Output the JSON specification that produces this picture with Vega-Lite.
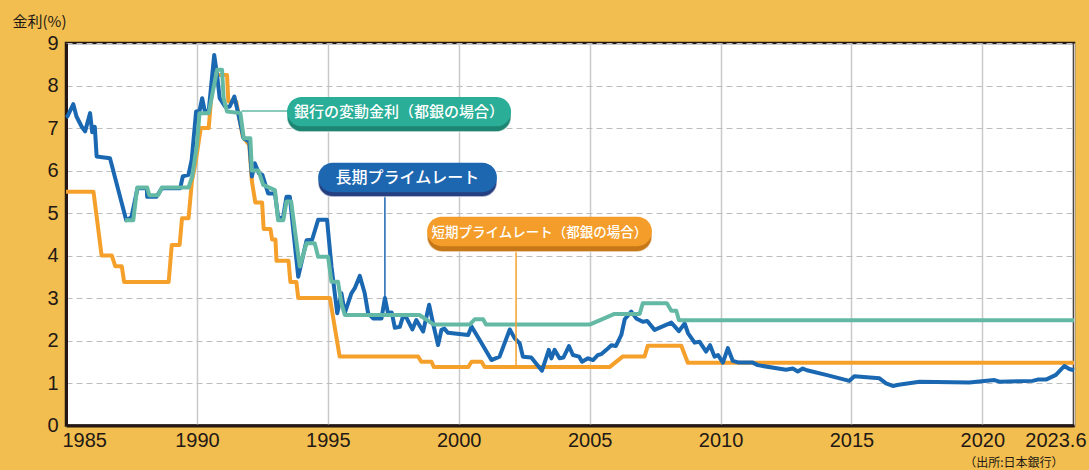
{
  "$schema": "https://vega.github.io/schema/vega-lite/v6.json",
  "width": 1008,
  "height": 382.5,
  "autosize": {"type": "none"},
  "padding": {"left": 66, "top": 43, "right": 15, "bottom": 44.5},
  "background": "#F1BE4F",
  "config": {
    "view": {"stroke": "#231815", "strokeWidth": 2.5, "fill": "white"},
    "axis": {"labelFont": "Liberation Sans", "labelFontSize": 20, "labelColor": "#231815", "ticks": false, "domainColor": "#231815", "domainWidth": 3}
  },
  "datasets": {
    "short": [
      {"year": 1985.0, "rate": 5.5}, {"year": 1986.05, "rate": 5.5}, {"year": 1986.36, "rate": 4.0}, {"year": 1986.75, "rate": 4.0},
      {"year": 1986.88, "rate": 3.75}, {"year": 1987.13, "rate": 3.75}, {"year": 1987.22, "rate": 3.375}, {"year": 1988.92, "rate": 3.375},
      {"year": 1989.04, "rate": 4.25}, {"year": 1989.34, "rate": 4.25}, {"year": 1989.43, "rate": 4.875}, {"year": 1989.68, "rate": 4.875},
      {"year": 1989.81, "rate": 5.75}, {"year": 1989.95, "rate": 6.2}, {"year": 1990.15, "rate": 7.0}, {"year": 1990.45, "rate": 7.0},
      {"year": 1990.62, "rate": 8.25}, {"year": 1991.15, "rate": 8.25}, {"year": 1991.2, "rate": 7.625}, {"year": 1991.5, "rate": 7.625},
      {"year": 1991.75, "rate": 6.8}, {"year": 1992.0, "rate": 6.6}, {"year": 1992.1, "rate": 5.75}, {"year": 1992.23, "rate": 5.25},
      {"year": 1992.49, "rate": 5.25}, {"year": 1992.55, "rate": 4.625}, {"year": 1992.81, "rate": 4.625}, {"year": 1992.87, "rate": 4.375},
      {"year": 1993.0, "rate": 4.375}, {"year": 1993.04, "rate": 3.875}, {"year": 1993.5, "rate": 3.875}, {"year": 1993.57, "rate": 3.375},
      {"year": 1993.8, "rate": 3.375}, {"year": 1993.87, "rate": 3.0}, {"year": 1995.08, "rate": 3.0}, {"year": 1995.45, "rate": 1.625},
      {"year": 1998.45, "rate": 1.625}, {"year": 1998.57, "rate": 1.5}, {"year": 1998.96, "rate": 1.5}, {"year": 1999.05, "rate": 1.375},
      {"year": 2000.36, "rate": 1.375}, {"year": 2000.49, "rate": 1.5}, {"year": 2000.87, "rate": 1.5}, {"year": 2000.99, "rate": 1.375},
      {"year": 2005.76, "rate": 1.375}, {"year": 2006.27, "rate": 1.625}, {"year": 2007.1, "rate": 1.625}, {"year": 2007.22, "rate": 1.875},
      {"year": 2008.5, "rate": 1.875}, {"year": 2008.75, "rate": 1.475}, {"year": 2023.5, "rate": 1.475}
    ],
    "long": [
      {"year": 1985.0, "rate": 7.25}, {"year": 1985.05, "rate": 7.27}, {"year": 1985.28, "rate": 7.56}, {"year": 1985.4, "rate": 7.27},
      {"year": 1985.6, "rate": 7.03}, {"year": 1985.73, "rate": 6.92}, {"year": 1985.92, "rate": 7.35}, {"year": 1986.0, "rate": 6.9},
      {"year": 1986.1, "rate": 7.03}, {"year": 1986.17, "rate": 6.33}, {"year": 1986.68, "rate": 6.29}, {"year": 1987.3, "rate": 4.83},
      {"year": 1987.5, "rate": 4.9}, {"year": 1987.73, "rate": 5.58}, {"year": 1988.09, "rate": 5.58}, {"year": 1988.1, "rate": 5.38},
      {"year": 1988.45, "rate": 5.38}, {"year": 1988.66, "rate": 5.58}, {"year": 1989.36, "rate": 5.58}, {"year": 1989.46, "rate": 5.86},
      {"year": 1989.68, "rate": 5.9}, {"year": 1989.8, "rate": 6.25}, {"year": 1989.97, "rate": 7.39}, {"year": 1990.1, "rate": 7.4},
      {"year": 1990.2, "rate": 7.7}, {"year": 1990.3, "rate": 7.4}, {"year": 1990.45, "rate": 7.4}, {"year": 1990.66, "rate": 8.72},
      {"year": 1990.77, "rate": 8.25}, {"year": 1990.87, "rate": 7.7}, {"year": 1991.08, "rate": 7.5}, {"year": 1991.25, "rate": 7.5},
      {"year": 1991.43, "rate": 7.74}, {"year": 1991.56, "rate": 7.39}, {"year": 1991.78, "rate": 6.76}, {"year": 1992.0, "rate": 6.68},
      {"year": 1992.1, "rate": 5.86}, {"year": 1992.21, "rate": 6.17}, {"year": 1992.37, "rate": 5.93}, {"year": 1992.5, "rate": 5.9},
      {"year": 1992.72, "rate": 5.46}, {"year": 1992.98, "rate": 5.46}, {"year": 1993.1, "rate": 4.91}, {"year": 1993.28, "rate": 4.85},
      {"year": 1993.42, "rate": 5.38}, {"year": 1993.55, "rate": 5.38}, {"year": 1993.68, "rate": 4.6}, {"year": 1993.87, "rate": 3.5},
      {"year": 1994.19, "rate": 4.36}, {"year": 1994.4, "rate": 4.37}, {"year": 1994.63, "rate": 4.84}, {"year": 1994.97, "rate": 4.84},
      {"year": 1995.14, "rate": 3.74}, {"year": 1995.36, "rate": 2.64}, {"year": 1995.52, "rate": 3.11}, {"year": 1995.65, "rate": 2.65},
      {"year": 1995.9, "rate": 3.11}, {"year": 1996.03, "rate": 3.23}, {"year": 1996.22, "rate": 3.52}, {"year": 1996.41, "rate": 3.11},
      {"year": 1996.54, "rate": 2.64}, {"year": 1996.73, "rate": 2.52}, {"year": 1997.05, "rate": 2.52}, {"year": 1997.18, "rate": 3.0},
      {"year": 1997.3, "rate": 2.64}, {"year": 1997.44, "rate": 2.66}, {"year": 1997.56, "rate": 2.3}, {"year": 1997.75, "rate": 2.32},
      {"year": 1997.87, "rate": 2.56}, {"year": 1998.0, "rate": 2.54}, {"year": 1998.23, "rate": 2.26}, {"year": 1998.38, "rate": 2.48},
      {"year": 1998.64, "rate": 2.21}, {"year": 1998.87, "rate": 2.84}, {"year": 1999.02, "rate": 2.4}, {"year": 1999.21, "rate": 1.89},
      {"year": 1999.34, "rate": 2.25}, {"year": 1999.45, "rate": 2.28}, {"year": 1999.59, "rate": 2.18}, {"year": 2000.36, "rate": 2.13},
      {"year": 2000.49, "rate": 2.33}, {"year": 2000.8, "rate": 2.01}, {"year": 2001.25, "rate": 1.54}, {"year": 2001.56, "rate": 1.62},
      {"year": 2001.95, "rate": 2.26}, {"year": 2002.14, "rate": 2.05}, {"year": 2002.33, "rate": 1.93}, {"year": 2002.45, "rate": 1.62},
      {"year": 2002.77, "rate": 1.6}, {"year": 2003.18, "rate": 1.29}, {"year": 2003.44, "rate": 1.78}, {"year": 2003.54, "rate": 1.58},
      {"year": 2003.66, "rate": 1.78}, {"year": 2003.85, "rate": 1.58}, {"year": 2004.0, "rate": 1.6}, {"year": 2004.21, "rate": 1.87},
      {"year": 2004.36, "rate": 1.66}, {"year": 2004.6, "rate": 1.62}, {"year": 2004.71, "rate": 1.5}, {"year": 2004.94, "rate": 1.58},
      {"year": 2005.13, "rate": 1.54}, {"year": 2005.32, "rate": 1.66}, {"year": 2005.45, "rate": 1.68}, {"year": 2005.64, "rate": 1.78},
      {"year": 2005.83, "rate": 1.89}, {"year": 2006.0, "rate": 1.87}, {"year": 2006.21, "rate": 2.13}, {"year": 2006.34, "rate": 2.5},
      {"year": 2006.59, "rate": 2.68}, {"year": 2006.78, "rate": 2.52}, {"year": 2007.03, "rate": 2.44}, {"year": 2007.2, "rate": 2.46},
      {"year": 2007.48, "rate": 2.25}, {"year": 2008.12, "rate": 2.42}, {"year": 2008.41, "rate": 2.22}, {"year": 2008.63, "rate": 2.4},
      {"year": 2008.76, "rate": 2.17}, {"year": 2009.01, "rate": 1.95}, {"year": 2009.2, "rate": 1.97}, {"year": 2009.45, "rate": 1.74},
      {"year": 2009.6, "rate": 1.89}, {"year": 2009.77, "rate": 1.62}, {"year": 2009.9, "rate": 1.66}, {"year": 2010.09, "rate": 1.48},
      {"year": 2010.28, "rate": 1.82}, {"year": 2010.47, "rate": 1.52}, {"year": 2010.7, "rate": 1.48}, {"year": 2011.23, "rate": 1.48},
      {"year": 2011.42, "rate": 1.42}, {"year": 2012.5, "rate": 1.31}, {"year": 2012.76, "rate": 1.34}, {"year": 2012.95, "rate": 1.27},
      {"year": 2013.14, "rate": 1.34}, {"year": 2013.3, "rate": 1.3}, {"year": 2014.03, "rate": 1.19}, {"year": 2014.92, "rate": 1.05},
      {"year": 2015.11, "rate": 1.16}, {"year": 2016.07, "rate": 1.11}, {"year": 2016.32, "rate": 0.99}, {"year": 2016.58, "rate": 0.93},
      {"year": 2016.8, "rate": 0.96}, {"year": 2017.6, "rate": 1.03}, {"year": 2019.5, "rate": 1.01}, {"year": 2020.46, "rate": 1.07},
      {"year": 2020.65, "rate": 1.03}, {"year": 2021.92, "rate": 1.05}, {"year": 2022.11, "rate": 1.08}, {"year": 2022.43, "rate": 1.08},
      {"year": 2022.81, "rate": 1.19}, {"year": 2023.13, "rate": 1.4}, {"year": 2023.32, "rate": 1.33}, {"year": 2023.5, "rate": 1.3}
    ],
    "floating": [
      {"year": 1987.25, "rate": 4.83}, {"year": 1987.57, "rate": 4.83}, {"year": 1987.72, "rate": 5.6}, {"year": 1988.1, "rate": 5.6},
      {"year": 1988.18, "rate": 5.42}, {"year": 1988.52, "rate": 5.42}, {"year": 1988.66, "rate": 5.6}, {"year": 1989.68, "rate": 5.6},
      {"year": 1989.82, "rate": 5.86}, {"year": 1990.0, "rate": 6.6}, {"year": 1990.1, "rate": 7.35}, {"year": 1990.45, "rate": 7.35},
      {"year": 1990.77, "rate": 8.37}, {"year": 1990.96, "rate": 8.37}, {"year": 1991.02, "rate": 7.7}, {"year": 1991.15, "rate": 7.39},
      {"year": 1991.66, "rate": 7.35}, {"year": 1991.79, "rate": 6.76}, {"year": 1992.04, "rate": 6.76}, {"year": 1992.1, "rate": 6.0},
      {"year": 1992.35, "rate": 6.0}, {"year": 1992.53, "rate": 5.66}, {"year": 1992.98, "rate": 5.54}, {"year": 1993.1, "rate": 4.83},
      {"year": 1993.3, "rate": 4.83}, {"year": 1993.42, "rate": 5.27}, {"year": 1993.6, "rate": 5.27}, {"year": 1993.74, "rate": 4.6},
      {"year": 1993.93, "rate": 3.74}, {"year": 1994.19, "rate": 4.29}, {"year": 1994.5, "rate": 4.29}, {"year": 1994.63, "rate": 3.97},
      {"year": 1995.01, "rate": 3.97}, {"year": 1995.14, "rate": 3.38}, {"year": 1995.39, "rate": 3.38}, {"year": 1995.52, "rate": 2.87},
      {"year": 1995.65, "rate": 2.6}, {"year": 1998.5, "rate": 2.6}, {"year": 1999.05, "rate": 2.375}, {"year": 2000.42, "rate": 2.375},
      {"year": 2000.61, "rate": 2.5}, {"year": 2000.93, "rate": 2.5}, {"year": 2001.04, "rate": 2.375}, {"year": 2005.0, "rate": 2.375},
      {"year": 2005.95, "rate": 2.625}, {"year": 2006.91, "rate": 2.625}, {"year": 2007.03, "rate": 2.875}, {"year": 2007.95, "rate": 2.875},
      {"year": 2008.12, "rate": 2.7}, {"year": 2008.31, "rate": 2.7}, {"year": 2008.41, "rate": 2.475}, {"year": 2023.5, "rate": 2.475}
    ],
    "one": [{}]
  },
  "layer": [
    {
      "data": {"name": "short"},
      "mark": {"type": "line", "color": "#F6A02C", "strokeWidth": 4, "strokeJoin": "round"},
      "encoding": {
        "x": {"field": "year", "type": "quantitative",
          "scale": {"domain": [1985, 2023.5], "nice": false, "zero": false},
          "axis": {"title": null, "values": [1985, 1990, 1995, 2000, 2005, 2010, 2015, 2020, 2023.5], "format": "d",
            "labelExpr": "datum.value > 2023 ? '2023.6' : datum.label",
            "labelPadding": 5, "labelBaseline": "top", "labelFlush": false,
            "labelAlign": {"condition": [{"test": "datum.value < 1986", "value": "left"}, {"test": "datum.value > 2023", "value": "right"}], "value": "center"},
            "labelOffset": {"condition": [{"test": "datum.value < 1986", "value": -4}, {"test": "datum.value > 2023", "value": 12}], "value": 0},
            "grid": true, "gridColor": "#C9C9C9", "gridWidth": 1.5}},
        "y": {"field": "rate", "type": "quantitative",
          "scale": {"domain": [0, 9], "nice": false},
          "axis": {"values": [0, 1, 2, 3, 4, 5, 6, 7, 8, 9], "labelPadding": 8, "grid": true, "gridColor": "#BDBDBD", "gridDash": [6, 4], "gridWidth": 1.2,
            "title": "金利(%)", "titleAngle": 0, "titleAlign": "left", "titleBaseline": "alphabetic", "titleX": -54, "titleY": -17,
            "titleFont": "Noto Sans CJK JP", "titleFontSize": 15, "titleFontWeight": "normal", "titleColor": "#231815"}}
      }
    },
    {
      "data": {"name": "long"},
      "mark": {"type": "line", "color": "#1A68B2", "strokeWidth": 4, "strokeJoin": "round"},
      "encoding": {"x": {"field": "year", "type": "quantitative"}, "y": {"field": "rate", "type": "quantitative"}}
    },
    {
      "data": {"name": "floating"},
      "mark": {"type": "line", "color": "#64B9A5", "strokeWidth": 4, "strokeJoin": "round"},
      "encoding": {"x": {"field": "year", "type": "quantitative"}, "y": {"field": "rate", "type": "quantitative"}}
    },
    {
      "data": {"name": "one"},
      "mark": {"type": "rule", "color": "#64B9A5", "strokeWidth": 1.5},
      "encoding": {"x": {"datum": 1991.7}, "x2": {"datum": 1993.5}, "y": {"datum": 7.4}}
    },
    {
      "data": {"name": "one"},
      "mark": {"type": "rule", "color": "#1A68B2", "strokeWidth": 1.5},
      "encoding": {"x": {"datum": 1997.18}, "y": {"datum": 5.4}, "y2": {"datum": 3.0}}
    },
    {
      "data": {"name": "one"},
      "mark": {"type": "rule", "color": "#F6A02C", "strokeWidth": 1.5},
      "encoding": {"x": {"datum": 2002.19}, "y": {"datum": 4.1}, "y2": {"datum": 1.375}}
    },
    {
      "data": {"name": "one"},
      "mark": {"type": "rect", "cornerRadius": 16, "color": "#1D8571", "stroke": "#ffffff", "strokeOpacity": 0.5, "strokeWidth": 1.5},
      "encoding": {"x": {"datum": 1993.44}, "x2": {"datum": 2002.0}, "y": {"datum": 6.91}, "y2": {"datum": 7.61}}
    },
    {
      "data": {"name": "one"},
      "mark": {"type": "rect", "cornerRadius": 16, "color": "#2AAE97"},
      "encoding": {"x": {"datum": 1993.44}, "x2": {"datum": 2002.0}, "y": {"datum": 7.04}, "y2": {"datum": 7.73}}
    },
    {
      "data": {"name": "one"},
      "mark": {"type": "text", "text": "銀行の変動金利（都銀の場合）", "font": "Noto Sans CJK JP", "fontSize": 15, "fontWeight": 500, "color": "white", "align": "center", "baseline": "middle"},
      "encoding": {"x": {"datum": 1997.72}, "y": {"datum": 7.37}}
    },
    {
      "data": {"name": "one"},
      "mark": {"type": "rect", "cornerRadius": 16, "color": "#253F80", "stroke": "#ffffff", "strokeOpacity": 0.5, "strokeWidth": 1.5},
      "encoding": {"x": {"datum": 1994.63}, "x2": {"datum": 2001.46}, "y": {"datum": 5.38}, "y2": {"datum": 6.07}}
    },
    {
      "data": {"name": "one"},
      "mark": {"type": "rect", "cornerRadius": 16, "color": "#1D66B0"},
      "encoding": {"x": {"datum": 1994.63}, "x2": {"datum": 2001.46}, "y": {"datum": 5.49}, "y2": {"datum": 6.18}}
    },
    {
      "data": {"name": "one"},
      "mark": {"type": "text", "text": "長期プライムレート", "font": "Noto Sans CJK JP", "fontSize": 16, "fontWeight": 500, "color": "white", "align": "center", "baseline": "middle"},
      "encoding": {"x": {"datum": 1998.04}, "y": {"datum": 5.82}}
    },
    {
      "data": {"name": "one"},
      "mark": {"type": "rect", "cornerRadius": 16, "color": "#C67818", "stroke": "#ffffff", "strokeOpacity": 0.5, "strokeWidth": 1.5},
      "encoding": {"x": {"datum": 1998.79}, "x2": {"datum": 2007.38}, "y": {"datum": 4.09}, "y2": {"datum": 4.79}}
    },
    {
      "data": {"name": "one"},
      "mark": {"type": "rect", "cornerRadius": 16, "color": "#F49D2A"},
      "encoding": {"x": {"datum": 1998.79}, "x2": {"datum": 2007.38}, "y": {"datum": 4.22}, "y2": {"datum": 4.91}}
    },
    {
      "data": {"name": "one"},
      "mark": {"type": "text", "text": "短期プライムレート（都銀の場合）", "font": "Noto Sans CJK JP", "fontSize": 13.5, "fontWeight": 500, "color": "white", "align": "center", "baseline": "middle"},
      "encoding": {"x": {"datum": 2003.08}, "y": {"datum": 4.54}}
    },
    {
      "data": {"name": "one"},
      "mark": {"type": "text", "text": "（出所:日本銀行）", "font": "Noto Sans CJK JP", "fontSize": 12, "color": "#231815", "align": "right", "baseline": "alphabetic"},
      "encoding": {"x": {"datum": 2023.1}, "y": {"datum": -0.97}}
    }
  ]
}
